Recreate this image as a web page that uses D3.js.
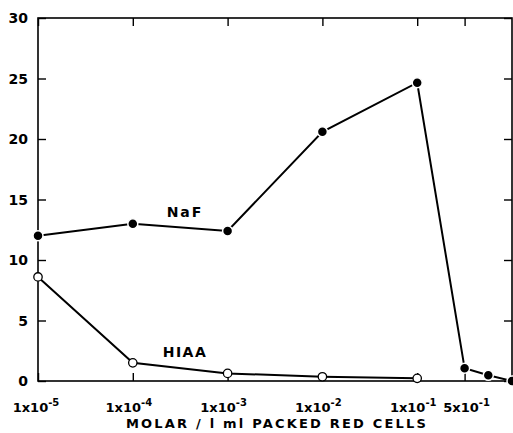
<!DOCTYPE html>
<html><head><meta charset="utf-8">
<script src="https://cdn.jsdelivr.net/npm/d3@7"></script>
<style>body{margin:0;background:#fff}svg{display:block}text{font-family:"DejaVu Sans",sans-serif;font-weight:bold;fill:#000}</style>
</head><body>
<script>
// axis positions (in decade units from 1x10^-5) for each point
const xPositions = [0, 1, 2, 3, 4, 4.5, 4.75, 5];
const nafValues = [12.0, 13.0, 12.4, 20.6, 24.65, 1.05, 0.47, 0];
const hiaaPositions = [0, 1, 2, 3, 4];
const hiaaValues = [8.6, 1.5, 0.63, 0.35, 0.22];
const xTickPos = [0, 1, 2, 3, 4, 4.5];
const xTickMant = ["1x10", "1x10", "1x10", "1x10", "1x10", "5x10"];
const xTickExp = ["-5", "-4", "-3", "-2", "-1", "-1"];
const yTicks = [0, 5, 10, 15, 20, 25, 30];

const W = 513, H = 433;
const L = 38, R = 512, T = 18, B = 381;
const svg = d3.select("body").append("svg").attr("width", W).attr("height", H);
const x = d3.scaleLinear().domain([0, 5]).range([L, R]);
const y = d3.scaleLinear().domain([0, 30]).range([B, T]);

// frame
svg.append("rect").attr("x", L).attr("y", T).attr("width", R - L).attr("height", B - T)
  .attr("fill", "none").attr("stroke", "#000").attr("stroke-width", 1.6);

// y ticks inward left & right
svg.append("g").attr("transform", `translate(${L},0)`)
  .call(d3.axisRight(y).tickValues(yTicks).tickSize(8).tickFormat(""))
  .call(g => g.select(".domain").remove())
  .selectAll("line").attr("stroke-width", 1.4);
svg.append("g").attr("transform", `translate(${R},0)`)
  .call(d3.axisLeft(y).tickValues(yTicks).tickSize(8).tickFormat(""))
  .call(g => g.select(".domain").remove())
  .selectAll("line").attr("stroke-width", 1.4);
// y labels
svg.append("g").selectAll("text").data(yTicks).join("text")
  .attr("x", 28).attr("y", d => y(d) + 5).attr("text-anchor", "end")
  .attr("font-size", 14).text(d => d);

// x ticks inward bottom & top
svg.append("g").attr("transform", `translate(0,${B})`)
  .call(d3.axisTop(x).tickValues(xTickPos).tickSize(8).tickFormat(""))
  .call(g => g.select(".domain").remove())
  .selectAll("line").attr("stroke-width", 1.4);
svg.append("g").attr("transform", `translate(0,${T})`)
  .call(d3.axisBottom(x).tickValues(xTickPos).tickSize(8).tickFormat(""))
  .call(g => g.select(".domain").remove())
  .selectAll("line").attr("stroke-width", 1.4);

// x labels
const xl = svg.append("g").selectAll("text").data(xTickPos).join("text")
  .attr("x", (d, i) => x(d) + (i === 0 ? -2 : (i === 5 ? 2 : -4)))
  .attr("y", 412).attr("text-anchor", "middle").attr("font-size", 13);
xl.append("tspan").text((d, i) => xTickMant[i]);
xl.append("tspan").attr("dy", -6).attr("font-size", 10).text((d, i) => xTickExp[i]);

svg.append("text").attr("x", 277).attr("y", 428).attr("text-anchor", "middle")
  .attr("font-size", 13).attr("letter-spacing", 2.2).text("MOLAR / l ml PACKED RED CELLS");

// lines
const line = d3.line().x(d => x(d[0])).y(d => y(d[1]));
const naf = xPositions.map((p, i) => [p, nafValues[i]]);
const hiaa = hiaaPositions.map((p, i) => [p, hiaaValues[i]]);
svg.append("path").datum(naf).attr("d", line).attr("fill", "none").attr("stroke", "#000").attr("stroke-width", 2);
svg.append("path").datum(hiaa).attr("d", line).attr("fill", "none").attr("stroke", "#000").attr("stroke-width", 2);

svg.append("g").selectAll("circle").data(naf).join("circle")
  .attr("cx", d => x(d[0])).attr("cy", d => y(d[1])).attr("r", 5)
  .attr("fill", "#000").attr("stroke", "#fff").attr("stroke-width", 1.5);
svg.append("g").selectAll("circle").data(hiaa).join("circle")
  .attr("cx", d => x(d[0])).attr("cy", d => y(d[1])).attr("r", 4.2)
  .attr("fill", "#fff").attr("stroke", "#000").attr("stroke-width", 1.3);

svg.append("text").attr("x", 185).attr("y", 217).attr("text-anchor", "middle").attr("font-size", 14).attr("letter-spacing", 2).text("NaF");
svg.append("text").attr("x", 185).attr("y", 357).attr("text-anchor", "middle").attr("font-size", 14).attr("letter-spacing", 1.5).text("HIAA");
</script>
</body></html>
